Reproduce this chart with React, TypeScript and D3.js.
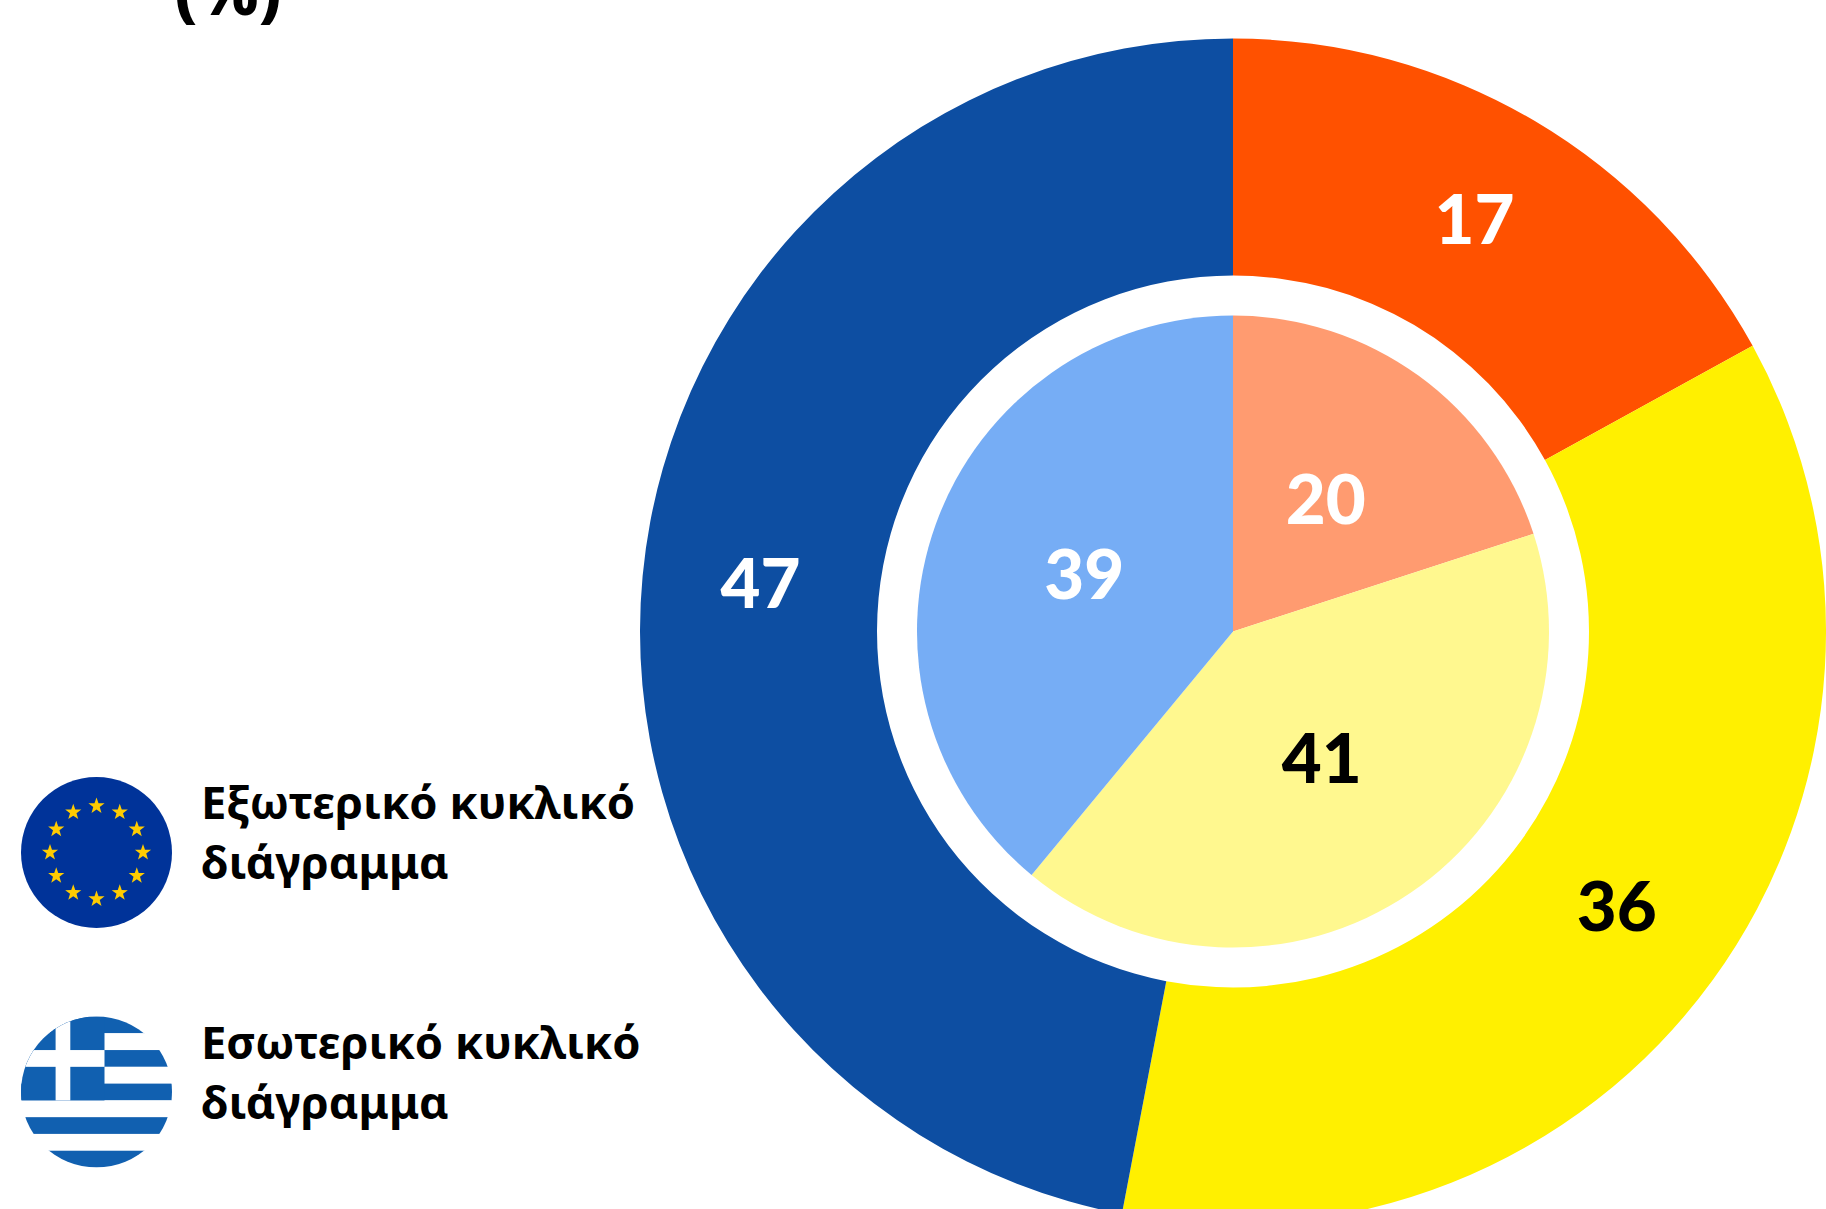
import React from "react";
import * as d3 from "d3";

const W = 1826, H = 1209;
const outerLabels = ["17", "36", "47"];
const outerValues = [17, 36, 47];
const outerColors = ["#FF5100", "#FFF000", "#0D4EA2"];
const outerText = ["#fff", "#000", "#fff"];
const innerValues = [20, 41, 39];
const innerColors = ["#FF9B70", "#FFF88F", "#76ADF5"];
const innerText = ["#fff", "#000", "#fff"];
const legendOuter = ["Εξωτερικό κυκλικό", "διάγραμμα"];
const legendInner = ["Εσωτερικό κυκλικό", "διάγραμμα"];
const titleTail = "(%)";
const euStars = d3.range(12);
const grStripes = d3.range(9);

const FONT = "'Noto Sans', sans-serif";
const NUMFONT = "Lato, 'Noto Sans', sans-serif";
const cx = 1233, cy = 631.5;

function starPath(r: number) {
  const pts: [number, number][] = [];
  for (let i = 0; i < 10; i++) {
    const a = (i * Math.PI) / 5 - Math.PI / 2;
    const rr = i % 2 ? r * 0.4 : r;
    pts.push([Math.cos(a) * rr, Math.sin(a) * rr]);
  }
  return d3.line()(pts) + "Z";
}

export default function App() {
  const pie = d3.pie<number>().sort(null).value((d) => d);
  const outerArc = d3.arc<d3.PieArcDatum<number>>().innerRadius(356).outerRadius(593);
  const innerArc = d3.arc<d3.PieArcDatum<number>>().innerRadius(0).outerRadius(316);
  const grY = d3.scaleBand<number>().domain(grStripes).range([1016.5, 1167.5]);
  const numStyle = { fontFamily: NUMFONT, fontWeight: 900, fontSize: 69, textAnchor: "middle" as const };
  const legStyle = { fontFamily: FONT, fontWeight: 700, fontSize: 45.3 };
  return (
    <svg width={W} height={H} viewBox={`0 0 ${W} ${H}`} style={{ position: "absolute", left: 0, top: 0, background: "#fff" }}>
      <defs>
        <clipPath id="gr"><circle cx={96.5} cy={1092} r={75.5} /></clipPath>
      </defs>
      <text x={228} y={15} textAnchor="middle" style={{ fontFamily: FONT, fontWeight: 800, fontSize: 66 }}>{titleTail}</text>
      <g transform={`translate(${cx},${cy})`}>
        {pie(outerValues).map((d, i) => <path key={i} d={outerArc(d)!} fill={outerColors[i]} />)}
        {pie(innerValues).map((d, i) => <path key={i} d={innerArc(d)!} fill={innerColors[i]} />)}
        {pie(outerValues).map((d, i) => {
          const [x, y] = outerArc.centroid(d);
          return <text key={i} x={x} y={y} dy="0.3em" fill={outerText[i]} style={numStyle}>{outerLabels[i]}</text>;
        })}
        {pie(innerValues).map((d, i) => {
          const [x, y] = innerArc.centroid(d);
          return <text key={i} x={x} y={y} dy="0.3em" fill={innerText[i]} style={numStyle}>{d.value}</text>;
        })}
      </g>
      <circle cx={96.5} cy={852.5} r={75.5} fill="#003399" />
      {euStars.map((i) => {
        const a = (i * Math.PI) / 6;
        return <path key={i} d={starPath(8.5)} fill="#FFCC00"
          transform={`translate(${96.5 + Math.sin(a) * 46.5},${852.5 - Math.cos(a) * 46.5})`} />;
      })}
      <g clipPath="url(#gr)">
        {grStripes.map((i) => (
          <rect key={i} x={20} y={grY(i)} width={153} height={grY.bandwidth()} fill={i % 2 ? "#fff" : "#1160B0"} />
        ))}
        <rect x={20} y={grY(0)} width={84.5} height={grY.bandwidth() * 5} fill="#1160B0" />
        <rect x={55.6} y={grY(0)} width={14.7} height={grY.bandwidth() * 5} fill="#fff" />
        <rect x={20} y={grY(2)} width={84.5} height={grY.bandwidth()} fill="#fff" />
      </g>
      {legendOuter.map((t, i) => <text key={i} x={201} y={819 + i * 60} style={legStyle}>{t}</text>)}
      {legendInner.map((t, i) => <text key={i} x={201} y={1059 + i * 60} style={legStyle}>{t}</text>)}
    </svg>
  );
}
